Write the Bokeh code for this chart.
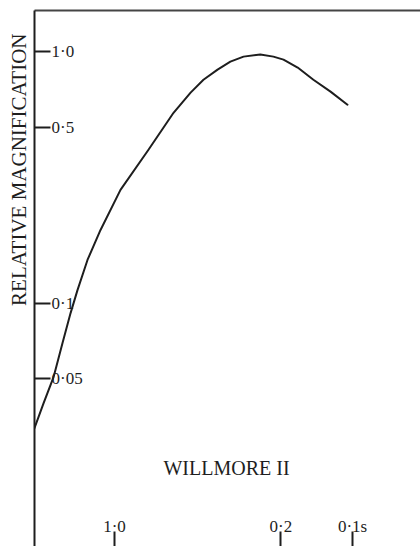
from bokeh.plotting import figure
from bokeh.models import Range1d, FixedTicker, LinearAxis, Label, ColumnDataSource, Title
from bokeh.core.properties import value
from bokeh.embed import file_html
from bokeh.resources import INLINE

# data: response time (s) vs relative magnification (log-log)
time_s = [2.17, 1.988, 1.804, 1.654, 1.530, 1.431, 1.299, 1.145, 0.944, 0.720,
          0.565, 0.479, 0.423, 0.369, 0.326, 0.287, 0.244, 0.215, 0.195, 0.170,
          0.146, 0.1237, 0.105]
magnification = [0.0318, 0.0399, 0.0507, 0.0693, 0.0912, 0.1126, 0.1484, 0.1953,
                 0.2819, 0.407, 0.571, 0.687, 0.773, 0.848, 0.912, 0.955, 0.973,
                 0.955, 0.929, 0.864, 0.773, 0.693, 0.615]

y_ticks = [1.0, 0.5, 0.1, 0.05]
y_tick_labels = ["1·0", "0·5", "0·1", "0·05"]
x_ticks = [1.0, 0.2, 0.1]
x_tick_labels = ["1·0", "0·2", "0·1s"]

X_START, X_END = 2.169, 0.0518
Y_START, Y_END = 0.01076, 1.457

SERIF = "Liberation Serif"
INK = "#1e1e1e"

p = figure(width=420, height=546, output_backend="svg", toolbar_location=None,
           x_axis_type="log", y_axis_type="log",
           x_range=Range1d(X_START, X_END), y_range=Range1d(Y_START, Y_END),
           min_border_left=34, min_border_right=0, min_border_top=10, min_border_bottom=0)
p.background_fill_color = "white"
p.border_fill_color = "white"
p.outline_line_color = None
p.xgrid.visible = False
p.ygrid.visible = False

# left axis: ticks pointing inward, labels drawn inside as text
ya = p.yaxis[0]
ya.ticker = FixedTicker(ticks=y_ticks)
ya.axis_line_color = INK
ya.axis_line_width = 2
ya.major_tick_in = 16
ya.major_tick_out = 0
ya.major_tick_line_color = INK
ya.major_tick_line_width = 2
ya.minor_tick_line_color = None
ya.major_label_text_font_size = "0px"
ya.major_label_text_color = None
ya.major_label_standoff = 0

xa = p.xaxis[0]
xa.ticker = FixedTicker(ticks=x_ticks)
xa.axis_line_color = None
xa.major_tick_in = 15
xa.major_tick_out = 0
xa.major_tick_line_color = INK
xa.major_tick_line_width = 2
xa.minor_tick_line_color = None
xa.major_label_text_font_size = "0px"
xa.major_label_text_color = None
xa.major_label_standoff = 0

top = LinearAxis(ticker=FixedTicker(ticks=[]), axis_line_color="#444444", axis_line_width=2,
                 major_tick_out=0, major_tick_in=0, minor_tick_line_color=None,
                 major_label_text_font_size="0px", major_label_text_color=None,
                 major_label_standoff=0)
p.add_layout(top, "above")

ytitle = Title(text="RELATIVE MAGNIFICATION", align="right", offset=23, standoff=4,
               vertical_align="top", text_font=SERIF, text_font_size="21px",
               text_line_height=1.0, text_font_style="normal", text_color=INK)
p.add_layout(ytitle, "left")

p.line(time_s, magnification, line_color=INK, line_width=2, line_join="round", line_cap="round")

ysrc = ColumnDataSource(dict(x=[X_START] * len(y_ticks), y=y_ticks, t=y_tick_labels))
p.text(x="x", y="y", text="t", source=ysrc, x_offset=17, text_align="left",
       text_baseline="middle", text_font=value(SERIF), text_font_size="17px", text_color=INK)

xsrc = ColumnDataSource(dict(x=x_ticks, y=[Y_START] * len(x_ticks), t=x_tick_labels))
p.text(x="x", y="y", text="t", source=xsrc, y_offset=-20, text_align="center",
       text_baseline="alphabetic", text_font=value(SERIF), text_font_size="17px", text_color=INK)

p.add_layout(Label(x=192, y=79, x_units="screen", y_units="screen", text="WILLMORE II",
                   text_align="center", text_baseline="middle",
                   text_font=SERIF, text_font_size="20px", text_color=INK))

open("out.html", "w").write(file_html(p, INLINE))
